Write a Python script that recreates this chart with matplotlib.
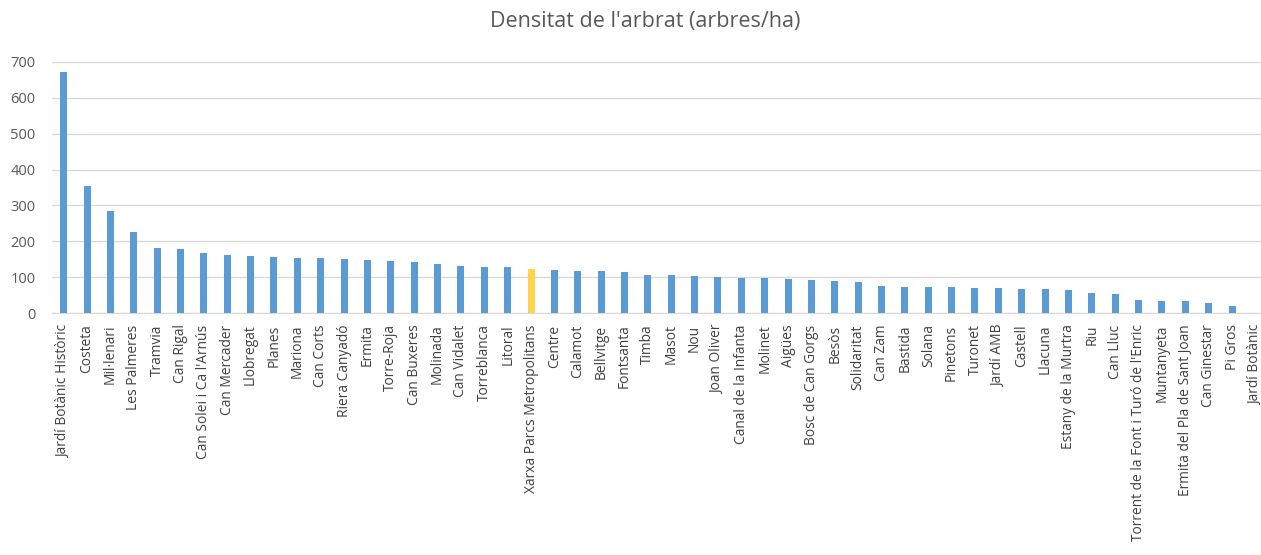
import matplotlib
matplotlib.use("Agg")
import matplotlib.pyplot as plt
import numpy as np

categories = [
    "Jardí Botànic Històric", "Costeta", "Mil·lenari", "Les Palmeres", "Tramvia",
    "Can Rigal", "Can Solei i Ca l'Arnús", "Can Mercader", "Llobregat", "Planes",
    "Mariona", "Can Corts", "Riera Canyadó", "Ermita", "Torre-Roja", "Can Buxeres",
    "Molinada", "Can Vidalet", "Torreblanca", "Litoral", "Xarxa Parcs Metropolitans",
    "Centre", "Calamot", "Bellvitge", "Fontsanta", "Timba", "Masot", "Nou",
    "Joan Oliver", "Canal de la Infanta", "Molinet", "Aigües", "Bosc de Can Gorgs",
    "Besòs", "Solidaritat", "Can Zam", "Bastida", "Solana", "Pinetons", "Turonet",
    "Jardí AMB", "Castell", "Llacuna", "Estany de la Murtra", "Riu", "Can Lluc",
    "Torrent de la Font i Turó de l'Enric", "Muntanyeta", "Ermita del Pla de Sant Joan",
    "Can Ginestar", "Pi Gros", "Jardí Botànic",
]
values = [
    670, 354, 286, 226, 183, 178, 168, 163, 160, 158,
    153, 153, 151, 148, 146, 143, 138, 132, 128, 128,
    124, 120, 118, 118, 115, 107, 107, 104, 100, 98,
    98, 96, 93, 91, 88, 76, 74, 74, 74, 71,
    71, 68, 68, 66, 56, 53, 37, 34, 34, 28,
    21, 0,
]
highlight = "Xarxa Parcs Metropolitans"
yticks = [0, 100, 200, 300, 400, 500, 600, 700]
title = "Densitat de l'arbrat (arbres/ha)"

blue = "#5B9BD5"
yellow = "#FFD34E"
text_col = "#595959"
grid_col = "#D9D9D9"

plt.rcParams['font.family'] = ['Open Sans', 'DejaVu Sans']

fig = plt.figure(figsize=(12.61, 5.55), dpi=100)
ax = fig.add_axes([52 / 1261, 1 - 313.3 / 555, 1 - 52 / 1261, (313.3 - 61.7) / 555])

x = np.arange(len(categories))
colors = [yellow if c == highlight else blue for c in categories]
ax.bar(x, values, width=0.3, color=colors, zorder=3)

ax.set_xlim(-0.5, 51.24)
ax.set_ylim(0, 700)
ax.set_yticks(yticks)
ax.set_yticklabels([str(t) for t in yticks], fontsize=10.5, color=text_col)
ax.set_xticks(x)
ax.set_xticklabels(categories, rotation=90, fontsize=9.9, color="#404040")
ax.tick_params(axis='both', length=0)
ax.tick_params(axis='x', pad=8)
ax.tick_params(axis='y', pad=12)
ax.grid(axis='y', color=grid_col, linewidth=1, zorder=0)
for s in ['top', 'right', 'left']:
    ax.spines[s].set_visible(False)
ax.spines['bottom'].set_color(grid_col)

fig.text(645 / 1261, 1 - 22 / 555, title, ha='center', va='center', fontsize=15.5, color=text_col)

fig.savefig("out.png", dpi=100)
